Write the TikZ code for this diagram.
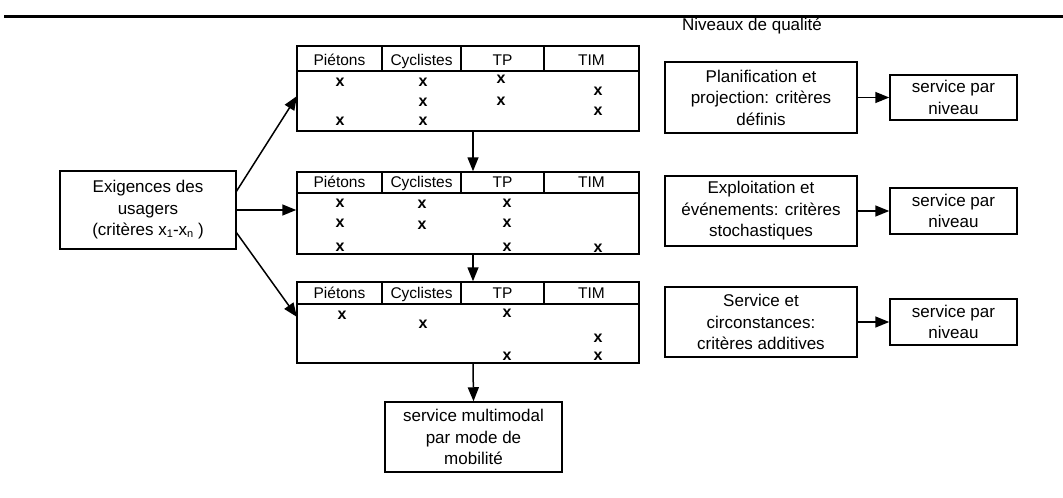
\documentclass[tikz,border=0pt]{standalone}
\usepackage{fontspec}
\setmainfont{Liberation Sans}
\usetikzlibrary{arrows.meta}
% small lowered index, as in x1 ... xn
\newcommand\lowidx[1]{\raisebox{-1.5pt}{\fontsize{11}{11}\selectfont #1}}
\begin{document}
\begin{tikzpicture}[x=1pt,y=-1pt,
  frame/.style={draw, line width=1.5pt},
  box/.style={frame, inner sep=0pt, align=center, font=\fontsize{17}{21.5}\selectfont},
  tabframe/.style={frame, inner sep=0pt, minimum width=342pt},
  head/.style={anchor=base, inner sep=0pt, font=\fontsize{15.5}{18}\selectfont},
  xmark/.style={inner sep=0pt, font=\fontsize{16}{16}\selectfont\bfseries},
  arr/.style={line width=1.5pt, -{Triangle[length=14pt,width=11pt]}},
]
\useasboundingbox (0,0) rectangle (1063,498);

% top rule and title
\draw[line width=3pt] (4,16) -- (1063,16);
\node[inner sep=0pt, anchor=base, font=\fontsize{17}{20}\selectfont] (title) at (752,30) {Niveaux de qualité};

% the three mode tables: name / top / header bottom / bottom
\foreach \n/\ya/\yb/\yc in {t1/46/71/131, t2/172/193/254, t3/282/304/363} {
  \node[tabframe, minimum height={\yc-\ya}] (\n) at (468,{(\ya+\yc)/2}) {};
  \draw[frame] (\n.west |- 0,\yb) -- (\n.east |- 0,\yb);
  \foreach \cx in {382,461,544}
    \draw[frame] (\cx,\ya) -- (\cx,\yb);
  \foreach \cx/\lab [count=\i] in {339.5/Piétons, 421.5/Cyclistes, 502.5/TP, 591.5/TIM}
    \node[head] (\n h\i) at (\cx,\yb-6) {\lab};
}

% crosses in the tables
\foreach \mx/\my [count=\i] in {
  340/82, 340/121, 423/82, 423/102, 423/121, 501/79, 501/101, 598/91, 598/111,
  340/203, 340/223, 340/247, 422/204, 422/225, 507/203, 507/223, 507/247, 598/248,
  342/315, 423/324, 507/313, 507/356, 598/338, 598/356}
  \node[xmark] (m\i) at (\mx,\my) {x};

% user requirements
\node[box, minimum width=176pt, minimum height=78pt] (ex) at (148,210)
  {Exigences des\\usagers\\(critères x\lowidx{1}-x\lowidx{n} )};

\coordinate (exA) at (236,192);
\coordinate (exC) at (236,232);
\coordinate (t1in) at (297,96);
\coordinate (t3in) at (297,317);
\draw[arr] (exA) -- (t1in);
\draw[arr] (ex.east) -- (ex.east -| t2.west);
\draw[arr] (exC) -- (t3in);

% flow through the tables
\node[box, minimum width=177pt, minimum height=70pt] (multi) at (473.5,437)
  {service multimodal\\par mode de\\mobilité};
\draw[arr] ([xshift=5pt]t1.south) -- ([xshift=5pt]t2.north);
\draw[arr] ([xshift=5pt]t2.south) -- ([xshift=5pt]t3.north);
\draw[arr] ([xshift=5pt]t3.south) -- (multi.north);

% quality levels
\node[box, minimum width=192pt, minimum height=71pt] (qa) at (761,97.5)
  {Planification et\\projection: critères\\définis};
\node[box, minimum width=192pt, minimum height=70pt] (qb) at (761,211)
  {Exploitation et\\événements: critères\\stochastiques};
\node[box, minimum width=192pt, minimum height=70pt] (qc) at (761,322)
  {Service et\\circonstances:\\critères additives};

\node[box, minimum width=127pt, minimum height=45pt] (sa) at (953.5,97.5) {service par\\niveau};
\node[box, minimum width=127pt, minimum height=46pt] (sb) at (953.5,211) {service par\\niveau};
\node[box, minimum width=127pt, minimum height=46pt] (sc) at (953.5,322) {service par\\niveau};

\draw[arr] (qa) -- (sa);
\draw[arr] (qb) -- (sb);
\draw[arr] (qc) -- (sc);
\end{tikzpicture}
\end{document}
